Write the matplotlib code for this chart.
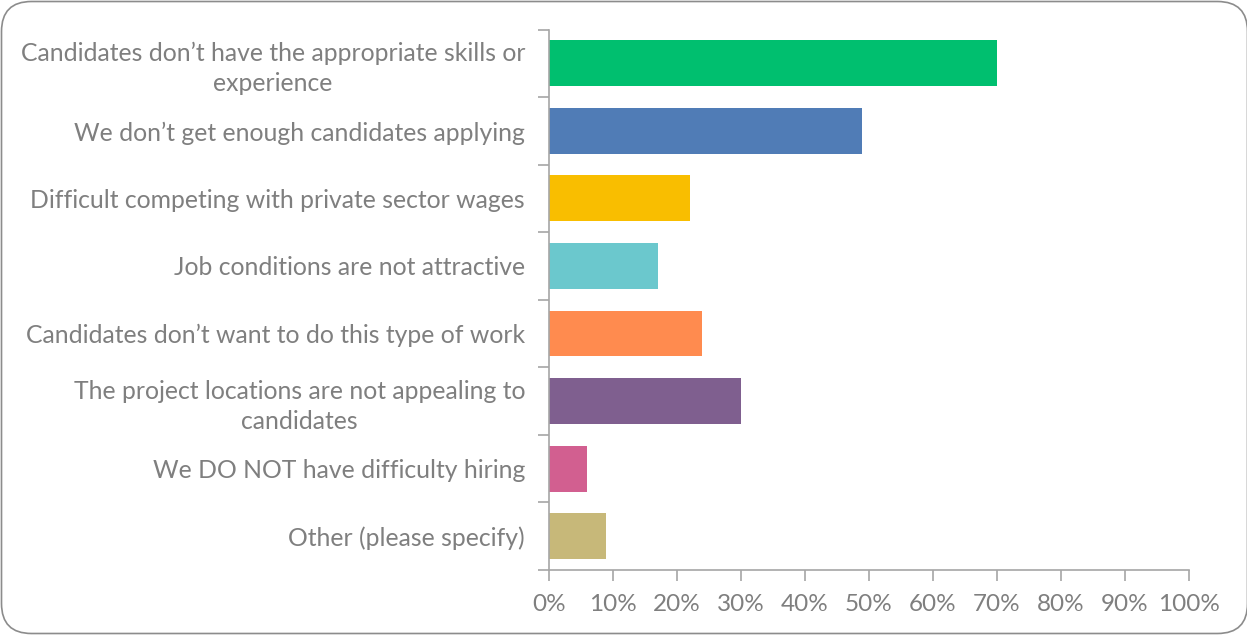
import matplotlib
matplotlib.use("Agg")
import matplotlib.pyplot as plt
from matplotlib.patches import FancyBboxPatch
from matplotlib.transforms import IdentityTransform

categories = [
    "Candidates don\u2019t have the appropriate skills or\nexperience",
    "We don\u2019t get enough candidates applying",
    "Difficult competing with private sector wages",
    "Job conditions are not attractive",
    "Candidates don\u2019t want to do this type of work",
    "The project locations are not appealing to\ncandidates",
    "We DO NOT have difficulty hiring",
    "Other (please specify)",
]
values = [70, 49, 22, 17, 24, 30, 6, 9]
colors = ["#00BF6F", "#507CB6", "#F9BE00", "#6BC8CD", "#FF8B4F",
          "#7F5F8F", "#D25F90", "#C7B879"]
xticks = list(range(0, 101, 10))
xticklabels = [f"{t}%" for t in xticks]

text_grey = "#7F7F7F"
axis_grey = "#A6A6A6"

plt.rcParams["font.family"] = ["Lato", "DejaVu Sans"]

fig = plt.figure(figsize=(12.47, 6.35), dpi=100)
ax = fig.add_axes([0.440, 0.1024, 0.5135, 0.8511])

y = list(range(len(categories)))
ax.barh(y, values, height=0.68, color=colors, zorder=2)

ax.set_ylim(len(categories) - 0.5, -0.5)
ax.set_xlim(0, 100)

# category separators as major ticks, names centred on minor ticks
ax.set_yticks([i - 0.5 for i in range(len(categories) + 1)], minor=False)
ax.set_yticklabels([])
ax.set_yticks(y, minor=True)
ax.set_yticklabels(categories, minor=True, fontsize=17.8, color=text_grey,
                   linespacing=1.35)
for lbl in ax.get_yticklabels(minor=True):
    lbl.set_multialignment("center")
ax.tick_params(axis="y", which="minor", length=0, pad=17)
ax.tick_params(axis="y", which="major", length=8, width=1.2, color=axis_grey)

ax.set_xticks(xticks)
ax.set_xticklabels(xticklabels, fontsize=17.5, color=text_grey)
ax.tick_params(axis="x", length=8, width=1.2, color=axis_grey, pad=9)

for side in ("top", "right"):
    ax.spines[side].set_visible(False)
for side in ("left", "bottom"):
    ax.spines[side].set_color(axis_grey)
    ax.spines[side].set_linewidth(1.2)

frame = FancyBboxPatch((1.5, 1.5), 1246, 632,
                       boxstyle="round,pad=0,rounding_size=30",
                       transform=IdentityTransform(), facecolor="none",
                       edgecolor="#8C8C8C", linewidth=1.2)
fig.add_artist(frame)

fig.savefig("out.png", dpi=100)
